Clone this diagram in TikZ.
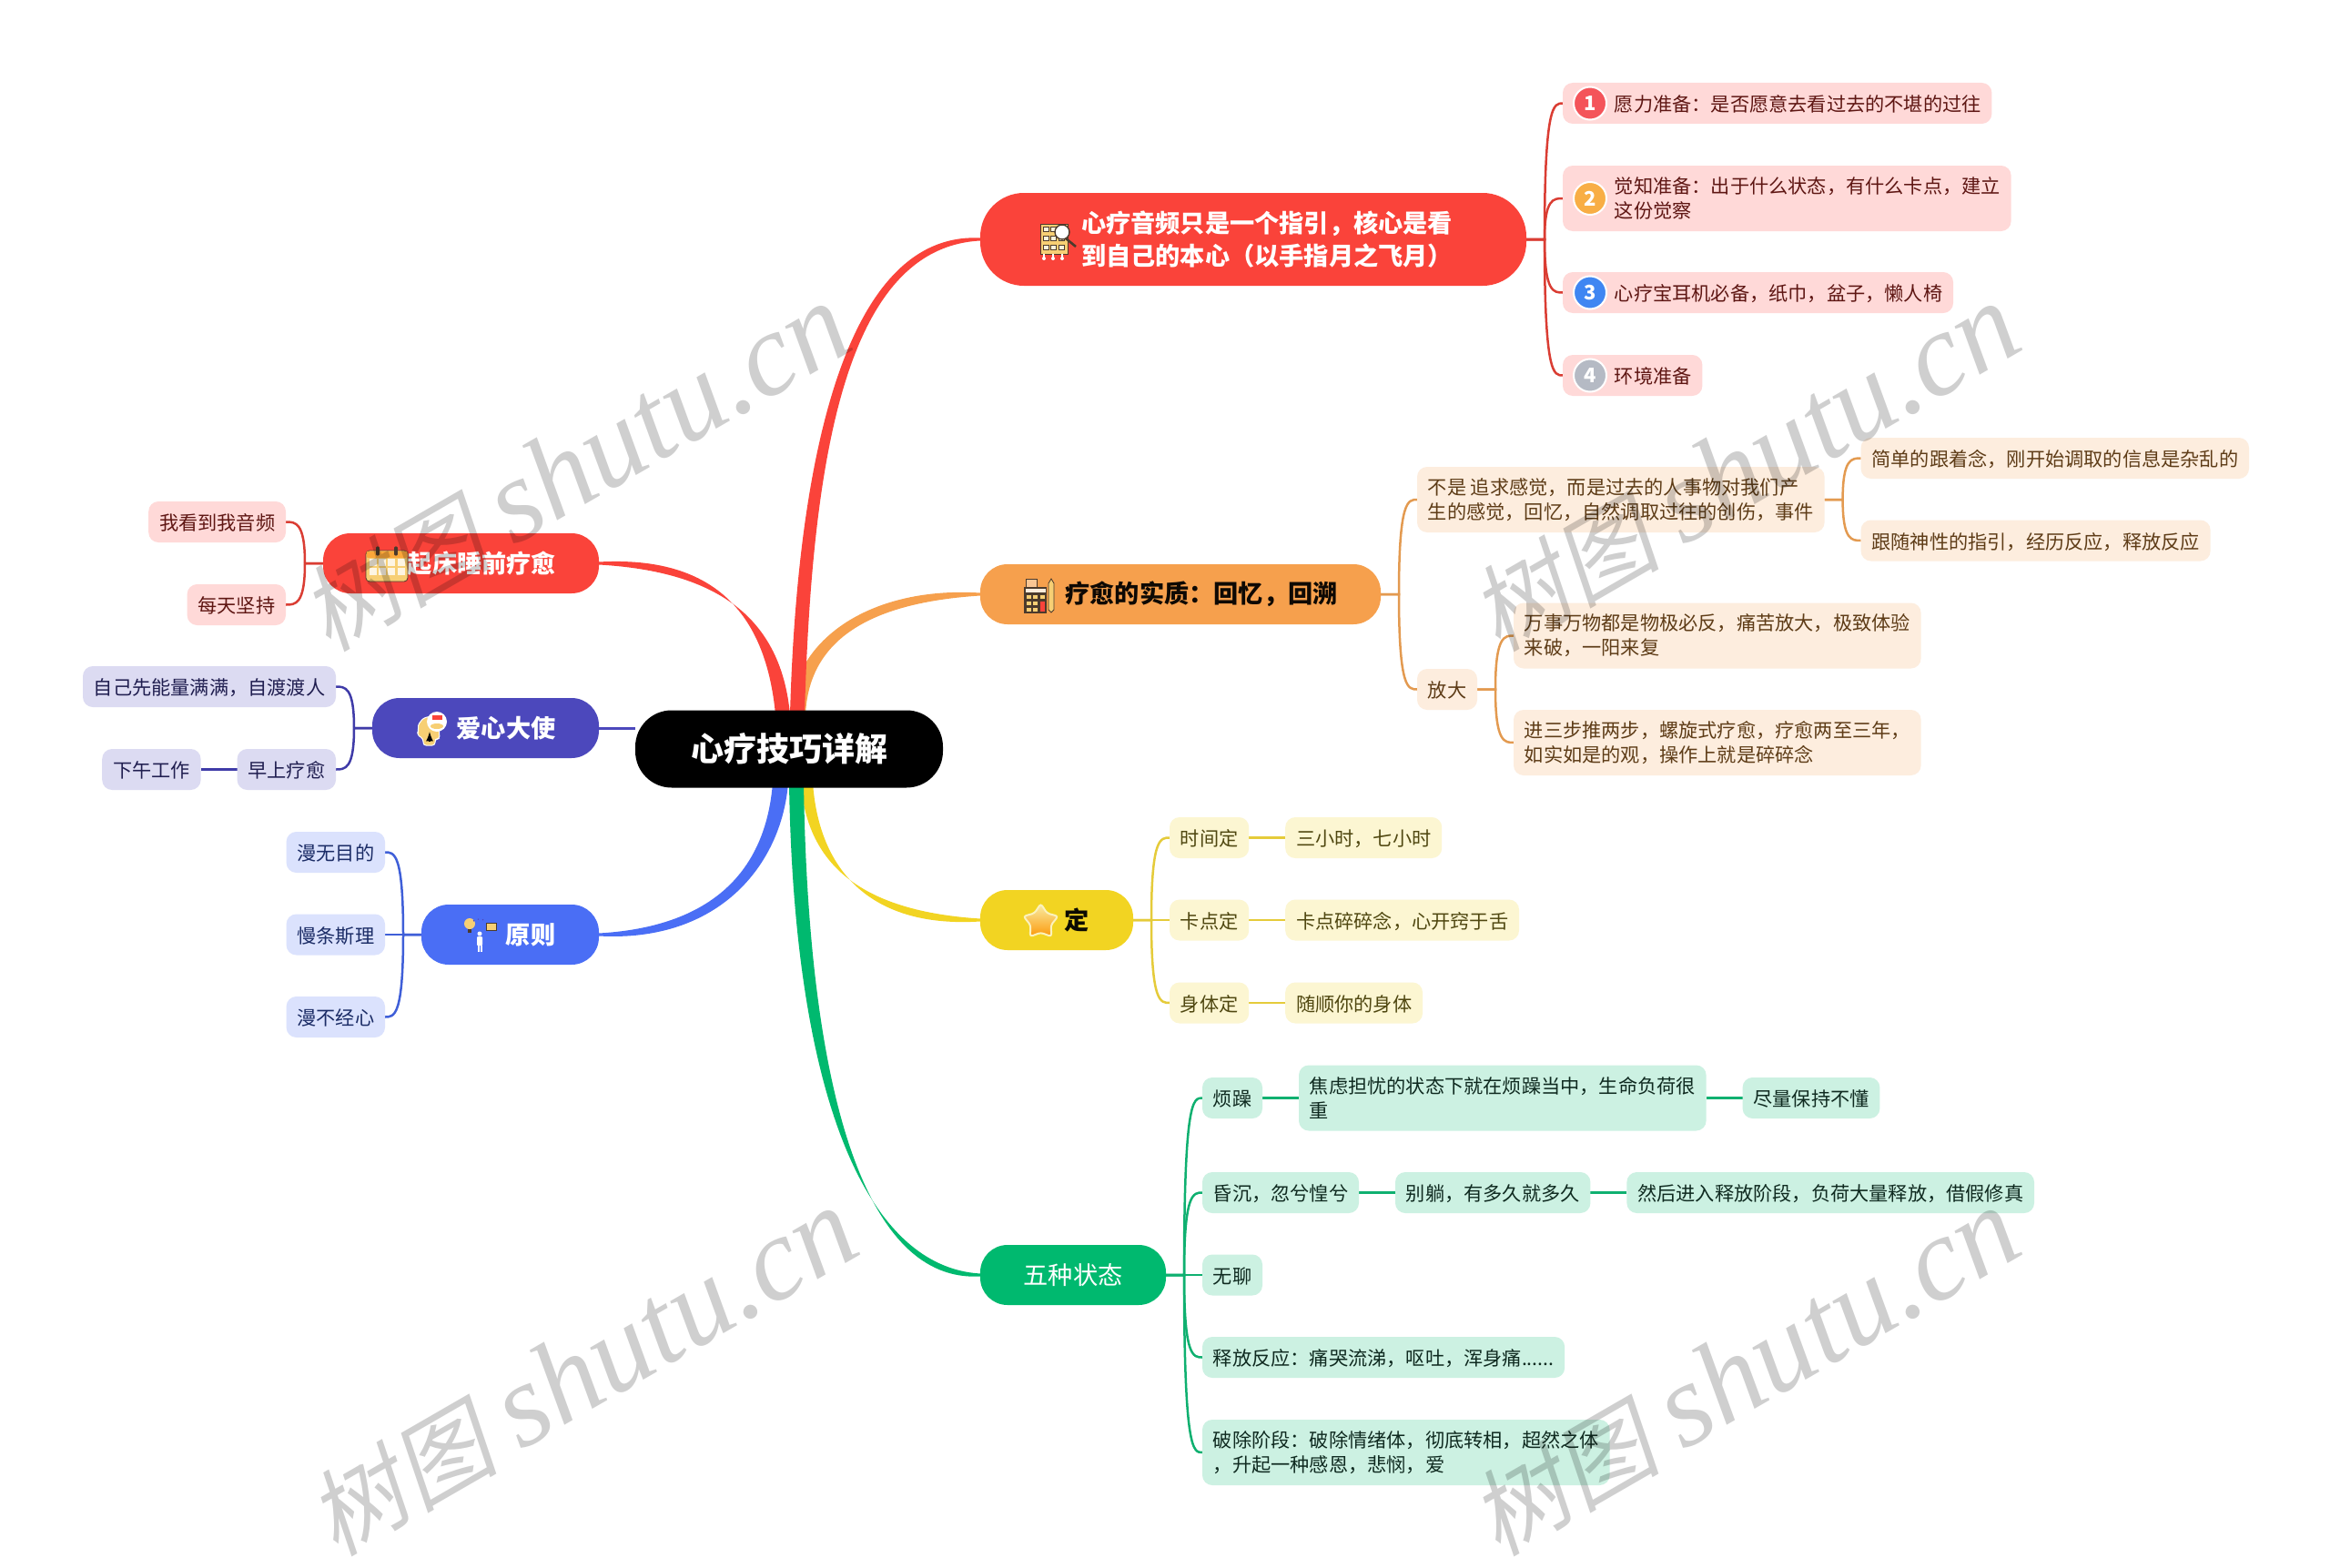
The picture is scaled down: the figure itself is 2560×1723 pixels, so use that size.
\documentclass[tikz,border=0pt]{standalone}
\usepackage{fontspec}
\setmainfont{Noto Sans CJK SC}
\newfontfamily\wmlatin{Liberation Serif}
\newfontfamily\wmcjk[FakeSlant=0.2]{Noto Sans CJK SC}
\usetikzlibrary{positioning,calc,backgrounds,shapes.geometric}
\definecolor{redm}{HTML}{FA433A}\definecolor{redl}{HTML}{FFD9D8}\definecolor{redt}{HTML}{5E1613}\definecolor{redw}{HTML}{DA3D33}
\definecolor{orgm}{HTML}{F6A04D}\definecolor{orgl}{HTML}{FDEDDE}\definecolor{orgt}{HTML}{5E3C17}\definecolor{orgw}{HTML}{E39A50}
\definecolor{yelm}{HTML}{F2D422}\definecolor{yell}{HTML}{FCF6D2}\definecolor{yelt}{HTML}{4F4710}\definecolor{yelw}{HTML}{E5CB3A}
\definecolor{grnm}{HTML}{00B96F}\definecolor{grnl}{HTML}{CCF1E2}\definecolor{grnt}{HTML}{0F2A20}\definecolor{grnw}{HTML}{0FB070}
\definecolor{blum}{HTML}{4A6EF5}\definecolor{blul}{HTML}{DBE2FD}\definecolor{blut}{HTML}{1B2C66}\definecolor{bluw}{HTML}{3F5FD8}
\definecolor{purm}{HTML}{4C48BC}\definecolor{purl}{HTML}{DCDBF2}\definecolor{purt}{HTML}{201E50}\definecolor{purw}{HTML}{3F3BA8}
\definecolor{icony}{HTML}{F7CF74}\definecolor{icond}{HTML}{4B3A2C}
\definecolor{bdga}{HTML}{F4545A}\definecolor{bdgb}{HTML}{F8AE45}\definecolor{bdgc}{HTML}{3F86F2}\definecolor{bdgd}{HTML}{B5BAC4}
\newcommand{\pad}{\hspace*{22.5pt}}
\newcommand{\wmtext}{{\wmcjk\fontsize{52}{52}\selectfont 树图}\hspace{13pt}{\wmlatin\itshape\fontsize{65}{65}\selectfont shutu.cn}}
\tikzset{
  leaf/.style={rounded corners=5.5pt, inner xsep=5.9pt, inner ysep=0pt, outer sep=0pt, minimum height=22.5pt, align=left, font=\fontsize{10.6}{13.5}\selectfont, execute at begin node={\rule{0pt}{10.3pt}}},
  two/.style={minimum height=36pt},
  leafr/.style={leaf, fill=redl, text=redt},
  leafo/.style={leaf, fill=orgl, text=orgt},
  leafy/.style={leaf, fill=yell, text=yelt},
  leafg/.style={leaf, fill=grnl, text=grnt},
  leafb/.style={leaf, fill=blul, text=blut},
  leafp/.style={leaf, fill=purl, text=purt},
  topic/.style={rounded corners=15pt, inner sep=0pt, outer sep=0pt, minimum height=33pt, align=left, font=\fontsize{13.6}{18}\selectfont\bfseries},
  badge/.style={circle, draw=white, line width=1pt, inner sep=0pt, minimum size=18pt, text=white, font=\fontsize{11}{11}\selectfont\bfseries},
  twigline/.style={line width=1.25pt},
  wmark/.style={rotate=30, text=black, text opacity=.19},
}
% tapered branch: colour, start, first control dx, root ends a/b, second control offset
\newcommand{\branch}[6]{\fill[#1] ($(#2)+(0,-1.5)$) .. controls ($(#2)+(#3,-9)$) and ($(root.center)+(#4)+(#6)$) .. ($(root.center)+(#4)$) -- ($(root.center)+(#5)$) .. controls ($(root.center)+(#5)+(#6)$) and ($(#2)+(#3,9)$) .. ($(#2)+(0,1.5)$) -- cycle;}
% thin link: from, to, spine step, colour
\newcommand{\twig}[4]{\path (#1) ++(#3,0) coordinate (sp);
  \draw[twigline, #4] (#1) -- (sp) .. controls (sp |- #2) and ($(sp |- #2)!0.5!(#2)$) .. (#2);}
\begin{document}
\begin{tikzpicture}[x=0.5pt,y=-0.5pt]
\useasboundingbox (0,0) rectangle (2560,1723);

\node[rounded corners=20pt, fill=black, text=white, inner sep=0pt, outer sep=0pt, minimum width=169pt, minimum height=42.5pt, font=\fontsize{18}{18}\selectfont\bfseries] (root) at (867,823) {心疗技巧详解};

\node[topic, fill=redm, text=white, anchor=west, minimum width=300pt, minimum height=51pt, rounded corners=24pt] (hint) at (1077,263) {\hspace*{15pt}心疗音频只是一个指引，核心是看\\\hspace*{15pt}到自己的本心（以手指月之飞月）};
\node[topic, fill=orgm, text=black!85!orgt, anchor=west, minimum width=220pt] (essence) at (1077,653) {\hspace*{23pt}疗愈的实质：回忆，回溯};
\node[topic, fill=yelm, text=black!85!yelt, anchor=west, minimum width=84pt] (calm) at (1077,1011) {\hspace*{22pt}定};
\node[topic, fill=grnm, text=white, anchor=west, minimum width=102pt, font=\fontsize{13.6}{18}\selectfont] (states) at (1077,1401) {五种状态};
\node[topic, fill=redm, text=white, anchor=east, minimum width=151.5pt] (daily) at (658,619) {\hspace*{23pt}起床睡前疗愈};
\node[topic, fill=purm, text=white, anchor=east, minimum width=124.5pt] (love) at (658,800) {\hspace*{22.5pt}爱心大使};
\node[topic, fill=blum, text=white, anchor=east, minimum width=97.5pt] (rule) at (658,1027) {\hspace*{22.5pt}原则};

% red
\node[leafr, right=20pt of hint, yshift=74.75pt] (r1) {\pad 愿力准备：是否愿意去看过去的不堪的过往};
\node[leafr, two, right=20pt of hint, yshift=22.5pt] (r2) {\pad 觉知准备：出于什么状态，有什么卡点，建立\\\pad 这份觉察};
\node[leafr, right=20pt of hint, yshift=-29.25pt] (r3) {\pad 心疗宝耳机必备，纸巾，盆子，懒人椅};
\node[leafr, right=20pt of hint, yshift=-74.75pt] (r4) {\pad 环境准备};
\node[badge, fill=bdga] (n1) at ($(r1.west)+(30,0)$) {1};
\node[badge, fill=bdgb] (n2) at ($(r2.west)+(30,0)$) {2};
\node[badge, fill=bdgc] (n3) at ($(r3.west)+(30,0)$) {3};
\node[badge, fill=bdgd] (n4) at ($(r4.west)+(30,0)$) {4};

% orange
\node[leafo, two, right=20pt of essence, yshift=52pt] (o1) {不是 追求感觉，而是过去的人事物对我们产\\生的感觉，回忆，自然调取过往的创伤，事件};
\node[leafo, right=20pt of essence, yshift=-52.25pt] (o2) {放大};
\node[leafo, right=20pt of o1, yshift=22.75pt] (o11) {简单的跟着念，刚开始调取的信息是杂乱的};
\node[leafo, right=20pt of o1, yshift=-22.5pt] (o12) {跟随神性的指引，经历反应，释放反应};
\node[leafo, two, right=20pt of o2, yshift=29.5pt] (o21) {万事万物都是物极必反，痛苦放大，极致体验\\来破，一阳来复};
\node[leafo, two, right=20pt of o2, yshift=-29.25pt] (o22) {进三步推两步，螺旋式疗愈，疗愈两至三年，\\如实如是的观，操作上就是碎碎念};

% yellow
\node[leafy, right=20pt of calm, yshift=45.25pt] (y1) {时间定};
\node[leafy, right=20pt of calm] (y2) {卡点定};
\node[leafy, right=20pt of calm, yshift=-45.5pt] (y3) {身体定};
\node[leafy, right=20pt of y1] (y11) {三小时，七小时};
\node[leafy, right=20pt of y2] (y21) {卡点碎碎念，心开窍于舌};
\node[leafy, right=20pt of y3] (y31) {随顺你的身体};

% green
\node[leafg, right=20pt of states, yshift=97.25pt] (g1) {烦躁};
\node[leafg, right=20pt of states, yshift=45.25pt] (g2) {昏沉，忽兮惶兮};
\node[leafg, right=20pt of states] (g3) {无聊};
\node[leafg, right=20pt of states, yshift=-45.25pt] (g4) {释放反应：痛哭流涕，呕吐，浑身痛......};
\node[leafg, two, right=20pt of states, yshift=-97.5pt] (g5) {破除阶段：破除情绪体，彻底转相，超然之体\\，升起一种感恩，悲悯，爱};
\node[leafg, two, right=20pt of g1] (g11) {焦虑担忧的状态下就在烦躁当中，生命负荷很\\重};
\node[leafg, right=20pt of g11] (g12) {尽量保持不懂};
\node[leafg, right=20pt of g2] (g21) {别躺，有多久就多久};
\node[leafg, right=20pt of g21] (g22) {然后进入释放阶段，负荷大量释放，借假修真};

% left side
\node[leafr, left=20.5pt of daily, yshift=22.75pt] (d1) {我看到我音频};
\node[leafr, left=20.5pt of daily, yshift=-22.75pt] (d2) {每天坚持};
\node[leafp, left=20pt of love, yshift=22.75pt] (l1) {自己先能量满满，自渡渡人};
\node[leafp, left=20pt of love, yshift=-22.75pt] (l2) {早上疗愈};
\node[leafp, left=20pt of l2] (l21) {下午工作};
\node[leafb, left=20pt of rule, yshift=45.25pt] (u1) {漫无目的};
\node[leafb, left=20pt of rule] (u2) {慢条斯理};
\node[leafb, left=20pt of rule, yshift=-45.25pt] (u3) {漫不经心};

\begin{pgfonlayer}{background}
\fill[white] (0,0) rectangle (2560,1723);
\branch{orgm}{essence.west}{-117}{1,-38}{18,-38}{4,-85}
\branch{yelm}{calm.west}{-117}{13,37}{26,37}{7,100}
\branch{redm}{hint.west}{-147}{1,-38}{17,-38}{8,-285}
\branch{redm}{daily.east}{132}{-15,-38}{1,-38}{-10,-105}
\branch{blum}{rule.east}{132}{-18,37}{-1,37}{-7,90}
\branch{grnm}{states.west}{-127}{0,37}{16,37}{5,340}
\draw[purm, line width=1.5pt] (love.east) -- (love.east -| root.west);
\foreach \k in {r1,r2,r3,r4} {\twig{hint.east}{\k.west}{20}{redw}}
\foreach \k in {o1,o2} {\twig{essence.east}{\k.west}{20}{orgw}}
\foreach \k in {o11,o12} {\twig{o1.east}{\k.west}{20}{orgw}}
\foreach \k in {o21,o22} {\twig{o2.east}{\k.west}{20}{orgw}}
\foreach \k in {y1,y2,y3} {\twig{calm.east}{\k.west}{20}{yelw}}
\twig{y1.east}{y11.west}{20}{yelw}
\twig{y2.east}{y21.west}{20}{yelw}
\twig{y3.east}{y31.west}{20}{yelw}
\foreach \k in {g1,g2,g3,g4,g5} {\twig{states.east}{\k.west}{20}{grnw}}
\twig{g1.east}{g11.west}{20}{grnw}
\twig{g11.east}{g12.west}{20}{grnw}
\twig{g2.east}{g21.west}{20}{grnw}
\twig{g21.east}{g22.west}{20}{grnw}
\foreach \k in {d1,d2} {\twig{daily.west}{\k.east}{-20}{redw}}
\foreach \k in {l1,l2} {\twig{love.west}{\k.east}{-20}{purw}}
\twig{l2.west}{l21.east}{-20}{purw}
\foreach \k in {u1,u2,u3} {\twig{rule.west}{\k.east}{-20}{bluw}}
\end{pgfonlayer}

% icons
\begin{scope}[shift={(1143,246)}] % report and lens
  \fill[icony, draw=icond, line width=.4pt] (0,0) rectangle (30,33);
  \foreach \i in {0,1,2} \foreach \j in {0,1,2} \fill[white!75!icony, draw=icond, line width=.3pt] (3+8.5*\i,3+10*\j) rectangle ++(6,5);
  \foreach \i in {4,14,24} {\draw[white, line width=1pt] (\i,33) -- (\i,37); \fill[white] (\i,38) circle (2);}
  \draw[icond, line width=1.3pt] (28,16) -- (39,25);
  \fill[white, draw=icond, line width=.7pt] (24,9) circle (8);
\end{scope}
\begin{scope}[shift={(1125,636)}] % calculator
  \fill[white!40!orgm, draw=icond, line width=.4pt] (2,0) rectangle (14,9);
  \fill[icond] (0,9) rectangle (25,38);
  \fill[white!80!orgm] (1.5,11) rectangle (23.5,15);
  \foreach \i in {0,1,2} \fill[icony] (2.5+7.5*\i,18) rectangle ++(5,4);
  \foreach \i in {0,1} \fill[icony] (2.5+7.5*\i,25) rectangle ++(5,4);
  \foreach \i in {0,1} \fill[icony] (2.5+7.5*\i,32) rectangle ++(5,4);
  \fill[redm] (17.5,25) rectangle (22.5,36);
  \fill[icony, draw=icond, line width=.4pt] (27,5) -- (30,0) -- (33,5) -- (33,34) -- (30,37) -- (27,34) -- cycle;
\end{scope}
\begin{scope}[shift={(402,601)}] % calendar
  \fill[icony, draw=icond, line width=.4pt, rounded corners=2pt] (0,4) rectangle (46,38);
  \fill[orange!50!icony, rounded corners=1pt] (.5,4.5) rectangle (45.5,12);
  \foreach \i in {0,1,2,3} \foreach \j in {0,1} \fill[white!80!icony] (4+10.2*\i,13+10*\j) rectangle ++(8,7.5);
  \foreach \i in {13,33} \draw[icond, line width=1.6pt, line cap=round] (\i,1) -- (\i,8);
\end{scope}
\begin{scope}[shift={(457,782)}] % head
  \fill[icony, draw=white, line width=.5pt, rounded corners=1.5pt] (8,37) -- (8,30) -- (1,25) -- (3,21) -- (2,15) -- (8,7) -- (17,5) -- (25,14) -- (26,30) -- (21,30) -- (21,37) -- cycle;
  \fill[white] (23,11) circle (11);
  \fill[icony] (23,16) ellipse (7 and 3);
  \fill[redm] (18,4) rectangle (29,9);
  \draw[black, line width=.8pt, -latex] (15,33) -- (15,22);
\end{scope}
\begin{scope}[shift={(510,1008)}] % bulb and person
  \fill[icony] (6,7) circle (6);
  \fill[icond] (4,13) rectangle (8,17);
  \fill[icony, draw=icond, line width=.4pt] (24,6) rectangle (35,14);
  \fill[white] (17,18) circle (2.5);
  \fill[white, rounded corners=.5pt] (14,21) rectangle (20,31);
  \fill[white] (14.5,31) rectangle (16.5,38);
  \fill[white] (17.5,31) rectangle (19.5,38);
  \draw[purm, line width=.6pt, dotted] (10,4) .. controls (15,1) and (20,1) .. (24,5);
\end{scope}
\node[star, star points=5, star point ratio=1.7, minimum size=20pt, inner sep=0pt, draw=white!70!yelm, line width=1pt, top color=yelm!40!white, bottom color=orange!70!yelm, rounded corners=1.5pt] (staricon) at (1143.5,1013) {};

% watermarks
\node[wmark] (w1) at (632,514) {\wmtext};
\node[wmark] (w2) at (1917,514) {\wmtext};
\node[wmark] (w3) at (640,1508) {\wmtext};
\node[wmark] (w4) at (1917,1508) {\wmtext};
\end{tikzpicture}
\end{document}
